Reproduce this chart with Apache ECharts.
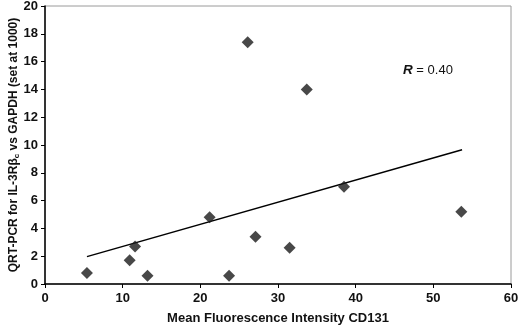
<!DOCTYPE html>
<html>
<head>
<meta charset="utf-8">
<script src="https://cdn.jsdelivr.net/npm/echarts@6/dist/echarts.min.js"></script>
<style>
  html, body { margin: 0; padding: 0; background: #fff; }
  #chart { width: 520px; height: 329px; }
</style>
</head>
<body>
<div id="chart"></div>
<script>
// MFI CD131 vs QRT-PCR values
const mfiValues = [5.4, 10.9, 11.6, 13.2, 21.2, 23.7, 26.1, 27.1, 31.5, 33.7, 38.5, 53.6];
const pcrValues = [0.8, 1.7, 2.7, 0.6, 4.8, 0.6, 17.4, 3.4, 2.6, 14.0, 7.0, 5.2];
// linear trend line ends
const trendX = [5.4, 53.7];
const trendY = [1.97, 9.66];
const xTicks = [0, 10, 20, 30, 40, 50, 60];
const yTicks = [0, 2, 4, 6, 8, 10, 12, 14, 16, 18, 20];

let points = mfiValues.map((v, i) => [v, pcrValues[i]]);
let trend = trendX.map((v, i) => [v, trendY[i]]);

let mychart = echarts.init(document.getElementById('chart'));
let labelFont = {
  color: '#111',
  fontFamily: 'Liberation Sans, Arial, sans-serif',
  fontWeight: 'bold',
  fontSize: 13
};
let option = {
  animation: false,
  backgroundColor: '#fff',
  grid: {
    left: 45,
    right: 9,
    top: 6,
    bottom: 45,
    outerBoundsMode: 'none',
    containLabel: false,
    show: true,
    borderColor: '#9a9a9a',
    borderWidth: 1,
    backgroundColor: '#fff'
  },
  xAxis: {
    type: 'value',
    min: xTicks[0],
    max: xTicks[xTicks.length - 1],
    interval: 10,
    name: 'Mean Fluorescence Intensity CD131',
    nameLocation: 'middle',
    nameGap: 28,
    nameMoveOverlap: false,
    nameTextStyle: Object.assign({}, labelFont),
    axisLine: { show: true, lineStyle: { color: '#000', width: 1.5 } },
    axisTick: { show: true, length: 4, lineStyle: { color: '#000' } },
    axisLabel: Object.assign({ margin: 8 }, labelFont),
    splitLine: { show: false }
  },
  yAxis: {
    type: 'value',
    min: yTicks[0],
    max: yTicks[yTicks.length - 1],
    interval: 2,
    name: '{m|QRT-PCR for IL-3Rβ}{s|c}{m| vs GAPDH (set at 1000)}',
    nameLocation: 'middle',
    nameGap: 24,
    nameMoveOverlap: false,
    nameTextStyle: {
      rich: {
        m: Object.assign({}, labelFont, { fontSize: 12 }),
        s: Object.assign({}, labelFont, { fontSize: 8, verticalAlign: 'bottom', padding: [6, 0, 0, 0] })
      }
    },
    axisLine: { show: true, lineStyle: { color: '#000', width: 1.5 } },
    axisTick: { show: true, length: 4, lineStyle: { color: '#000' } },
    axisLabel: Object.assign({ margin: 7 }, labelFont),
    splitLine: { show: false }
  },
  graphic: [{
    type: 'text',
    left: 403,
    top: 63,
    style: {
      text: '{r|R}{t| = 0.40}',
      rich: {
        r: { fontFamily: 'Liberation Sans, Arial, sans-serif', fontStyle: 'italic', fontWeight: 'bold', fontSize: 13.5, fill: '#111' },
        t: { fontFamily: 'Liberation Sans, Arial, sans-serif', fontSize: 13, fill: '#111' }
      }
    }
  }],
  series: [
    {
      name: 'trend',
      type: 'line',
      data: trend,
      symbol: 'none',
      lineStyle: { color: '#000', width: 1.5 },
      z: 2
    },
    {
      name: 'samples',
      type: 'scatter',
      data: points,
      symbol: 'diamond',
      symbolSize: 12,
      itemStyle: { color: '#1a1a1a' },
      z: 3
    }
  ]
};
mychart.setOption(option);
</script>
</body>
</html>
